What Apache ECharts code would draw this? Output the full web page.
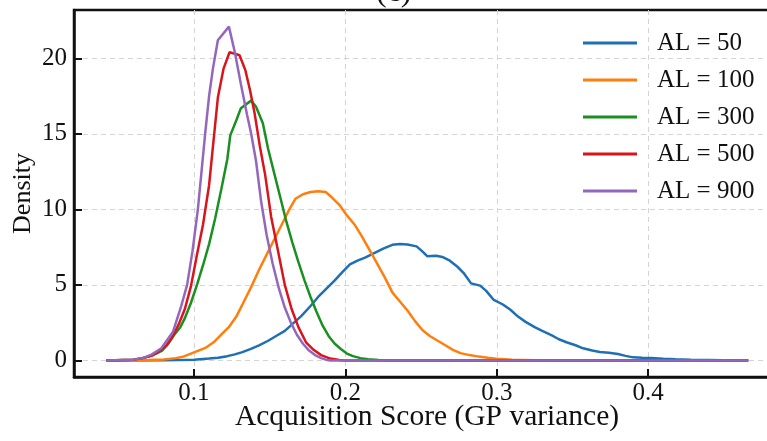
<!DOCTYPE html>
<html>
<head>
<meta charset="utf-8">
<script src="https://cdn.jsdelivr.net/npm/echarts@6/dist/echarts.min.js"></script>
<style>
html,body{margin:0;padding:0;background:#fff;}
#chart{width:767px;height:441px;}
</style>
</head>
<body>
<div id="chart"></div>
<script>
// ---- data ----
const seriesNames = ['AL = 50', 'AL = 100', 'AL = 300', 'AL = 500', 'AL = 900'];
const xTicks = [0.1, 0.2, 0.3, 0.4];
const yTicks = [0, 5, 10, 15, 20];

const al50 = [[0.042,0],[0.08,0.01],[0.1,0.05],[0.11,0.12],[0.116,0.18],[0.122,0.28],[0.127,0.4],[0.132,0.55],[0.138,0.78],[0.143,1.0],[0.149,1.3],[0.154,1.6],[0.16,1.95],[0.165,2.4],[0.171,2.95],[0.177,3.6],[0.182,4.2],[0.187,4.7],[0.193,5.3],[0.198,5.85],[0.203,6.35],[0.208,6.6],[0.213,6.8],[0.219,7.1],[0.225,7.4],[0.231,7.65],[0.236,7.7],[0.241,7.67],[0.247,7.55],[0.251,7.2],[0.254,6.9],[0.26,6.93],[0.264,6.85],[0.269,6.6],[0.274,6.2],[0.278,5.8],[0.283,5.1],[0.289,4.95],[0.293,4.6],[0.298,4.0],[0.304,3.7],[0.309,3.35],[0.314,2.9],[0.319,2.55],[0.325,2.2],[0.33,1.95],[0.336,1.67],[0.341,1.4],[0.346,1.2],[0.352,1.0],[0.357,0.8],[0.363,0.66],[0.368,0.56],[0.374,0.5],[0.38,0.42],[0.385,0.3],[0.39,0.2],[0.396,0.17],[0.402,0.15],[0.41,0.11],[0.418,0.08],[0.428,0.05],[0.44,0.03],[0.45,0.01],[0.466,0]];

const al100 = [[0.042,0],[0.07,0.02],[0.08,0.06],[0.088,0.15],[0.093,0.25],[0.098,0.45],[0.103,0.65],[0.108,0.85],[0.113,1.2],[0.118,1.7],[0.123,2.2],[0.128,2.9],[0.133,3.9],[0.138,4.9],[0.143,6.0],[0.148,7.0],[0.153,8.0],[0.158,9.0],[0.163,10.0],[0.167,10.7],[0.172,11.0],[0.177,11.15],[0.182,11.2],[0.187,11.15],[0.191,10.8],[0.196,10.3],[0.201,9.6],[0.206,9.0],[0.211,8.2],[0.216,7.3],[0.221,6.4],[0.226,5.5],[0.231,4.5],[0.236,3.9],[0.241,3.3],[0.246,2.6],[0.251,2.0],[0.256,1.6],[0.261,1.3],[0.266,1.0],[0.271,0.7],[0.276,0.48],[0.282,0.35],[0.288,0.25],[0.294,0.17],[0.3,0.11],[0.31,0.05],[0.325,0.01],[0.34,0],[0.466,0]];

const al300 = [[0.042,0],[0.06,0.05],[0.066,0.15],[0.07,0.25],[0.075,0.45],[0.079,0.65],[0.083,1.1],[0.087,1.7],[0.091,2.2],[0.094,2.8],[0.098,3.8],[0.102,5.0],[0.106,6.3],[0.11,7.7],[0.114,9.4],[0.118,11.3],[0.122,13.3],[0.124,14.9],[0.128,15.9],[0.131,16.7],[0.135,17.0],[0.1378,17.2],[0.141,16.8],[0.1455,15.7],[0.149,14.0],[0.153,12.4],[0.157,10.8],[0.161,9.2],[0.165,7.8],[0.169,6.5],[0.173,5.3],[0.177,4.2],[0.181,3.2],[0.185,2.3],[0.189,1.6],[0.193,1.1],[0.197,0.75],[0.201,0.45],[0.205,0.28],[0.21,0.15],[0.215,0.08],[0.222,0.03],[0.23,0],[0.466,0]];

const al500 = [[0.042,0],[0.06,0.05],[0.066,0.15],[0.072,0.3],[0.077,0.6],[0.082,1.0],[0.086,1.6],[0.09,2.4],[0.094,3.4],[0.098,4.9],[0.102,7.0],[0.106,9.0],[0.11,11.6],[0.112,13.6],[0.1158,17.4],[0.1195,19.3],[0.1235,20.4],[0.127,20.3],[0.1301,20.2],[0.134,19.2],[0.137,17.9],[0.14,16.4],[0.1435,14.2],[0.147,12.3],[0.151,9.5],[0.155,7.5],[0.16,5.0],[0.1645,3.4],[0.169,2.2],[0.174,1.2],[0.179,0.7],[0.184,0.35],[0.19,0.12],[0.196,0.03],[0.2,0],[0.466,0]];

const al900 = [[0.042,0],[0.06,0.05],[0.066,0.15],[0.072,0.38],[0.0785,0.8],[0.0862,1.9],[0.0916,3.6],[0.0955,5.0],[0.099,7.2],[0.1026,10.0],[0.105,12.5],[0.1075,15.1],[0.11,17.5],[0.1125,19.3],[0.1158,21.2],[0.1231,22.1],[0.127,20.4],[0.131,18.3],[0.135,16.3],[0.1378,15.0],[0.141,13.2],[0.1444,10.5],[0.148,8.3],[0.152,6.4],[0.156,4.8],[0.16,3.5],[0.164,2.5],[0.168,1.7],[0.172,1.1],[0.176,0.65],[0.18,0.35],[0.184,0.15],[0.188,0.02],[0.19,0],[0.466,0]];

const seriesData = [al50, al100, al300, al500, al900];
const colors = ['#1f6fb4', '#ff7f0e', '#1a8f22', '#d9141c', '#9467bd'];

// ---- chart ----
const FONT = '"Liberation Serif", "Times New Roman", serif';
const chart = echarts.init(document.getElementById('chart'), null, {renderer: 'canvas'});

const option = {
  animation: false,
  backgroundColor: '#fff',
  title: {
    text: '(c)',
    left: 376, top: -23, padding: 0,
    textStyle: {fontFamily: FONT, fontSize: 32, fontWeight: 'normal', color: '#111'}
  },
  grid: {
    left: 74, top: 10, right: -13, bottom: 64,
    outerBoundsMode: 'none',
    show: true, borderColor: '#111', borderWidth: 2.5, backgroundColor: 'transparent',
    containLabel: false
  },
  legend: {
    data: seriesNames,
    orient: 'vertical',
    left: 583, top: 28,
    padding: 0,
    icon: 'rect',
    itemWidth: 54, itemHeight: 3,
    itemGap: 7,
    textStyle: {fontFamily: FONT, fontSize: 25, color: '#111', lineHeight: 30, padding: [0, 0, 0, 15]}
  },
  xAxis: {
    type: 'value',
    min: 0.0208, max: 0.487,
    name: 'Acquisition Score (GP variance)',
    nameLocation: 'middle', nameGap: 25, nameMoveOverlap: false,
    nameTextStyle: {fontFamily: FONT, fontSize: 29.5, color: '#111'},
    axisLine: {show: true, onZero: false, lineStyle: {color: '#111', width: 2.5}},
    axisTick: {show: true, inside: true, length: 8, customValues: xTicks, lineStyle: {color: '#111', width: 2}},
    axisLabel: {customValues: xTicks, fontFamily: FONT, fontSize: 25, color: '#111', margin: 4,
      formatter: v => v.toFixed(1)},
    splitLine: {show: true, lineStyle: {color: '#d4d4d4', width: 1, type: [5, 4]}}
  },
  yAxis: {
    type: 'value',
    min: -1.1, max: 23.2,
    name: 'Density',
    nameLocation: 'middle', nameGap: 38, nameMoveOverlap: false,
    nameTextStyle: {fontFamily: FONT, fontSize: 26, color: '#111'},
    axisLine: {show: true, onZero: false, lineStyle: {color: '#111', width: 2.5}},
    axisTick: {show: true, inside: true, length: 8, customValues: yTicks, lineStyle: {color: '#111', width: 2}},
    axisLabel: {customValues: yTicks, fontFamily: FONT, fontSize: 25, color: '#111', margin: 7},
    splitLine: {show: true, lineStyle: {color: '#d4d4d4', width: 1, type: [5, 4]}}
  },
  series: seriesNames.map((n, i) => ({
    name: n,
    type: 'line',
    data: seriesData[i],
    showSymbol: false,
    symbol: 'none',
    smooth: false,
    color: colors[i],
    lineStyle: {color: colors[i], width: 2.5},
    z: 2 + i
  }))
};
chart.setOption(option);
</script>
</body>
</html>
